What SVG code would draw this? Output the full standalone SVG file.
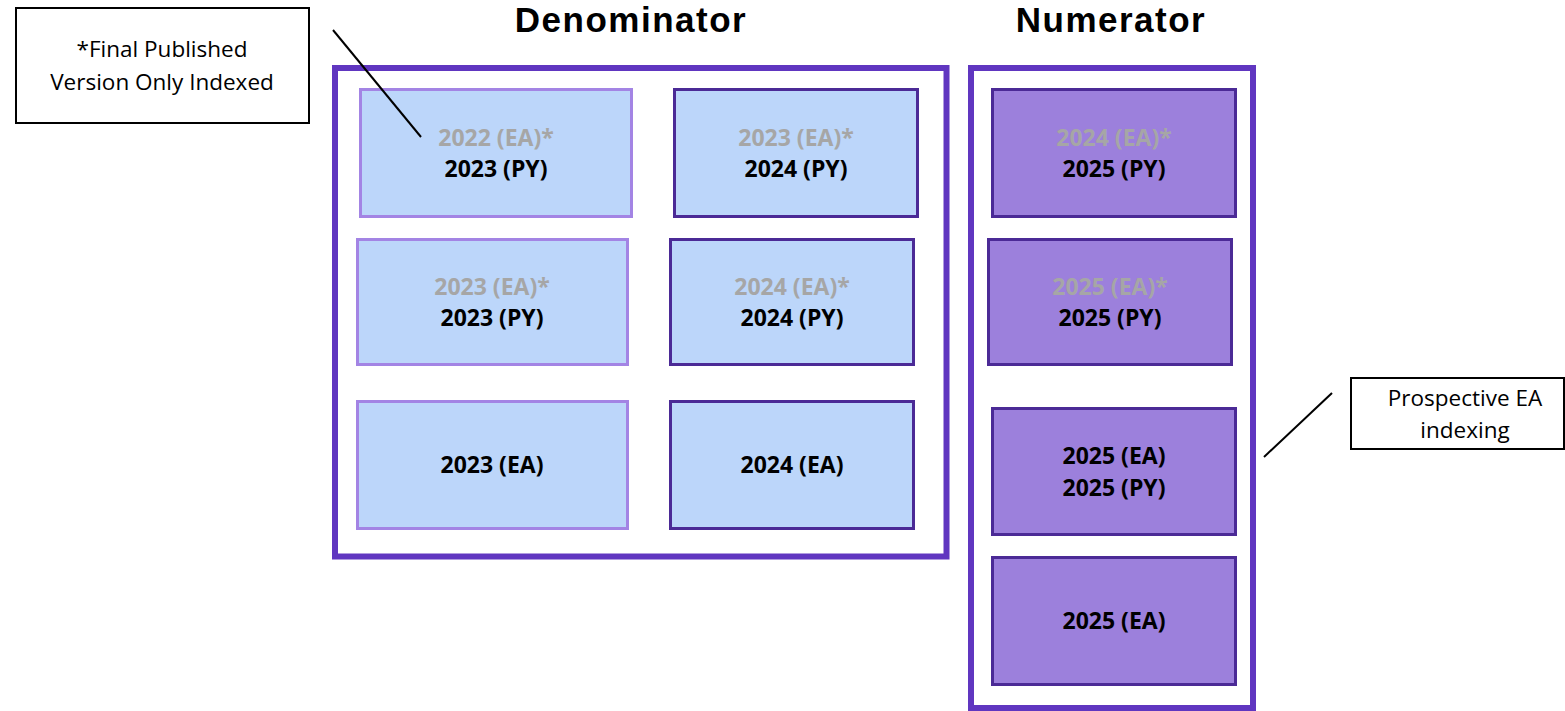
<svg xmlns="http://www.w3.org/2000/svg" width="1565" height="711" viewBox="0 0 1565 711">
<style>
.frame{fill:none;stroke:#6036C0;stroke-width:6}
.bl{fill:#BCD6FA;stroke:#A384E4;stroke-width:3}
.bd{fill:#BCD6FA;stroke:#4B2A96;stroke-width:3}
.pd{fill:#9C80DC;stroke:#4B2A96;stroke-width:3}
.t{font-family:"Open Sans","Liberation Sans",sans-serif;font-weight:bold;font-size:23px;text-anchor:middle;fill:#000}
.g{fill:#A6A6A6}
.title{font-family:"Liberation Sans",Arial,sans-serif;font-weight:bold;font-size:35px;letter-spacing:1.5px;text-anchor:middle;fill:#000}
.note{fill:#fff;stroke:#000;stroke-width:2}
.nt{font-family:"Open Sans","Liberation Sans",sans-serif;font-size:22.5px;text-anchor:middle;fill:#000}
.ln{stroke:#000;stroke-width:2;fill:none}
</style>
<rect width="1565" height="711" fill="#fff"/>
<g id="title-denominator"><text class="title" x="631" y="32">Denominator</text></g>
<g id="title-numerator"><text class="title" x="1111" y="32">Numerator</text></g>
<g id="denominator"><rect class="frame" x="335" y="68" width="611.5" height="488.5"/></g>
<g id="numerator"><rect class="frame" x="971" y="68" width="282" height="640"/></g>
<g id="d1"><rect class="bl" x="360.5" y="89.5" width="271" height="127"/><text class="t g" x="496" y="146">2022 (EA)*</text><text class="t" x="496" y="177">2023 (PY)</text></g>
<g id="d2"><rect class="bd" x="674.5" y="89.5" width="243" height="127"/><text class="t g" x="796" y="146">2023 (EA)*</text><text class="t" x="796" y="177">2024 (PY)</text></g>
<g id="d3"><rect class="bl" x="357.5" y="239.5" width="270" height="125"/><text class="t g" x="492" y="295">2023 (EA)*</text><text class="t" x="492" y="326">2023 (PY)</text></g>
<g id="d4"><rect class="bd" x="670.5" y="239.5" width="243" height="125"/><text class="t g" x="792" y="295">2024 (EA)*</text><text class="t" x="792" y="326">2024 (PY)</text></g>
<g id="d5"><rect class="bl" x="357.5" y="401.5" width="270" height="127"/><text class="t" x="492" y="473">2023 (EA)</text></g>
<g id="d6"><rect class="bd" x="670.5" y="401.5" width="243" height="127"/><text class="t" x="792" y="473">2024 (EA)</text></g>
<g id="n1"><rect class="pd" x="992.5" y="89.5" width="243" height="127"/><text class="t g" x="1114" y="146">2024 (EA)*</text><text class="t" x="1114" y="177">2025 (PY)</text></g>
<g id="n2"><rect class="pd" x="988.5" y="239.5" width="243" height="125"/><text class="t g" x="1110" y="295">2025 (EA)*</text><text class="t" x="1110" y="326">2025 (PY)</text></g>
<g id="n3"><rect class="pd" x="992.5" y="408.5" width="243" height="126"/><text class="t" x="1114" y="464">2025 (EA)</text><text class="t" x="1114" y="496">2025 (PY)</text></g>
<g id="n4"><rect class="pd" x="992.5" y="557.5" width="243" height="127"/><text class="t" x="1114" y="629">2025 (EA)</text></g>
<g id="note-final"><rect class="note" x="16" y="8" width="293" height="115"/><text class="nt" x="162" y="57">*Final Published</text><text class="nt" x="162" y="90">Version Only Indexed</text></g>
<g id="note-prospective"><rect class="note" x="1351" y="378" width="213" height="71"/><text class="nt" x="1465" y="406">Prospective EA</text><text class="nt" x="1465" y="438">indexing</text></g>
<g id="connectors">
<line class="ln" x1="333" y1="30" x2="421" y2="137"/>
<line class="ln" x1="1264" y1="457" x2="1332" y2="393"/>
</g>
</svg>
